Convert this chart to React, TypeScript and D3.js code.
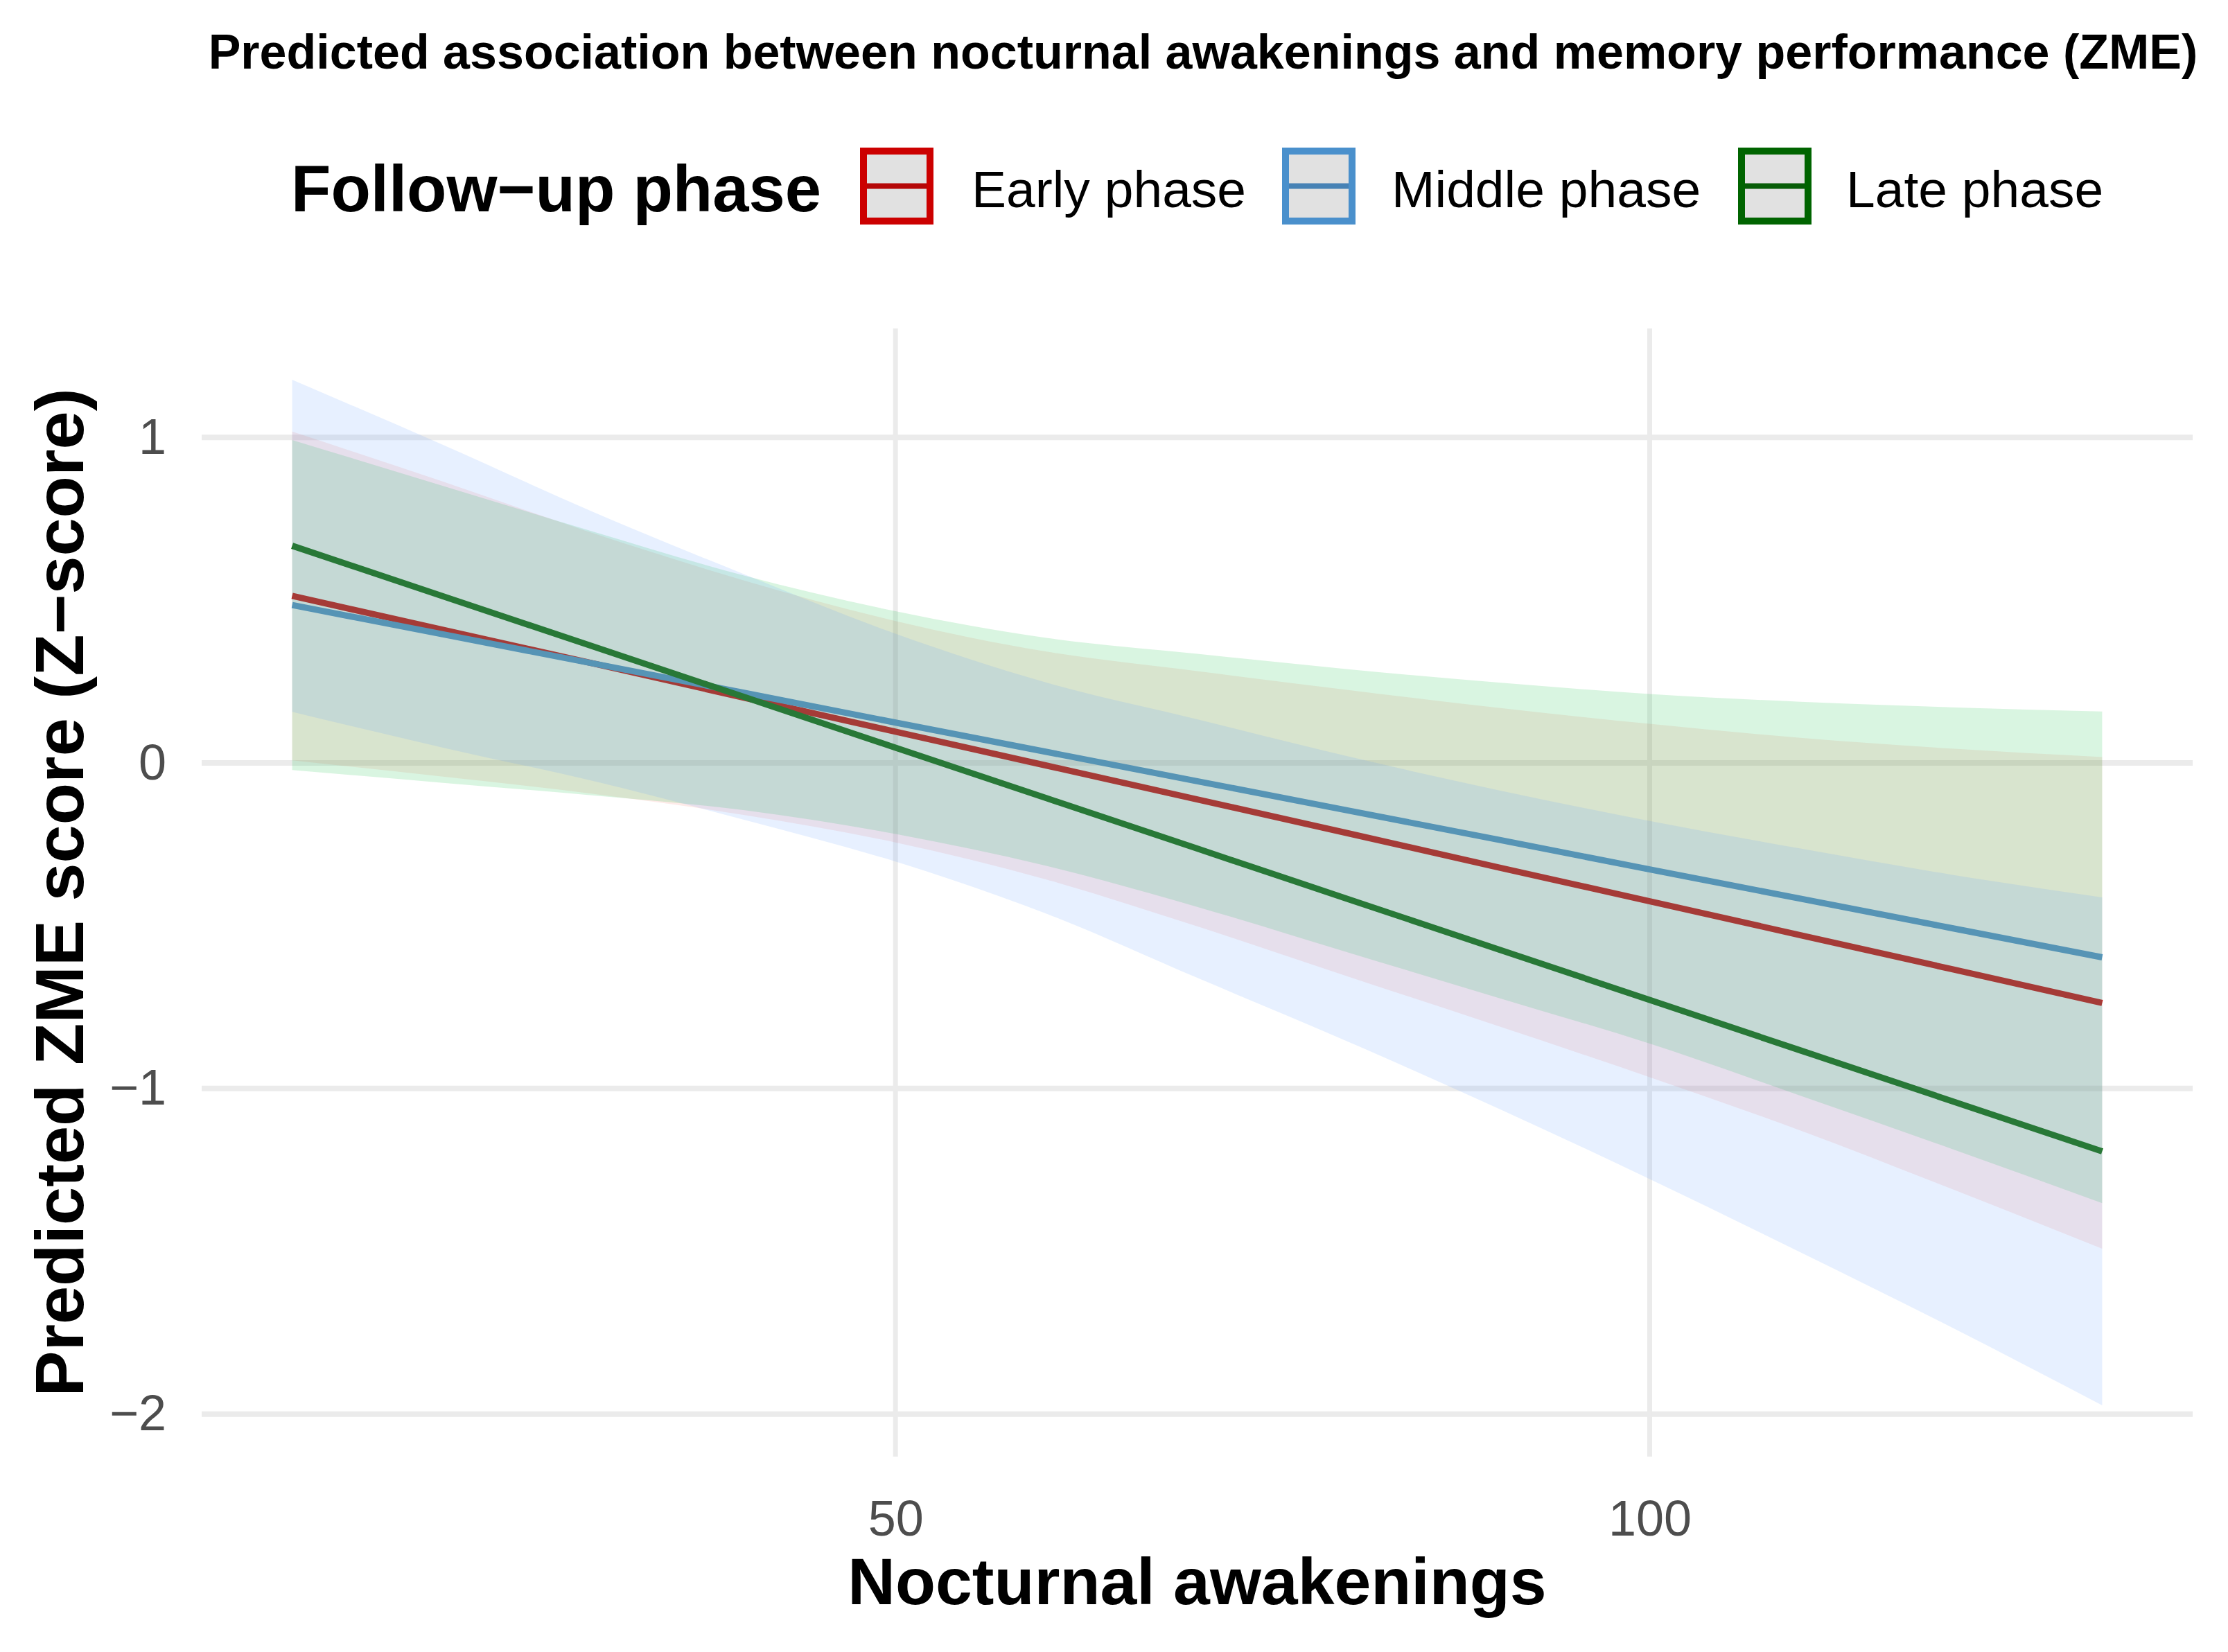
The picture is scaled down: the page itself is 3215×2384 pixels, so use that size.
import React, { useLayoutEffect, useRef } from 'react';
import * as d3 from 'd3';

// nocturnal awakenings at which the predictions were read
const awakenings = [10, 20, 30, 40, 50, 60, 70, 80, 90, 100, 110, 120, 130];

const earlyFit = [0.513, 0.409, 0.305, 0.2, 0.096, -0.008, -0.112, -0.216, -0.321, -0.425, -0.529, -0.633, -0.737];
const earlyLower = [0.008, -0.042, -0.095, -0.16, -0.244, -0.358, -0.502, -0.656, -0.809, -0.965, -1.129, -1.308, -1.492];
const earlyUpper = [1.018, 0.864, 0.705, 0.56, 0.436, 0.342, 0.282, 0.224, 0.169, 0.12, 0.077, 0.044, 0.018];

const middleFit = [0.485, 0.395, 0.305, 0.215, 0.124, 0.034, -0.056, -0.146, -0.236, -0.327, -0.417, -0.507, -0.597];
const middleLower = [-0.022, -0.061, -0.1, -0.145, -0.218, -0.316, -0.442, -0.582, -0.722, -0.862, -1.022, -1.185, -1.352];
const middleUpper = [0.992, 0.851, 0.71, 0.575, 0.466, 0.384, 0.335, 0.288, 0.247, 0.212, 0.188, 0.171, 0.158];

const lateFit = [0.667, 0.512, 0.357, 0.202, 0.047, -0.108, -0.263, -0.418, -0.573, -0.728, -0.883, -1.038, -1.193];
const lateLower = [0.157, 0.047, -0.056, -0.175, -0.303, -0.463, -0.66, -0.856, -1.062, -1.278, -1.503, -1.733, -1.973];
const lateUpper = [1.177, 0.977, 0.77, 0.579, 0.397, 0.247, 0.134, 0.02, -0.084, -0.178, -0.263, -0.343, -0.413];

const phases = ['Early phase', 'Middle phase', 'Late phase'];
const lineColors = ['#cc0000', '#4a90cc', '#006400'];
const ribbonFills = ['#F8766D', '#00BA38', '#619CFF'];

const xTicks = [50, 100];
const yTicks = [-2, -1, 0, 1];

const WIDTH = 3215;
const HEIGHT = 2384;
const FONT = '"Liberation Sans", Arial, Helvetica, sans-serif';
const panel = { left: 291, right: 3164, top: 474, bottom: 2102 };

type Point = { x: number; fit: number; lower: number; upper: number };

const drawChart = (node: SVGSVGElement) => {
  const svg = d3.select(node);
  svg.selectAll('*').remove();
  svg
    .attr('width', WIDTH)
    .attr('height', HEIGHT)
    .attr('font-family', FONT)
    .style('display', 'block')
    .style('background', '#ffffff');

  const fits = [earlyFit, middleFit, lateFit];
  const lowers = [earlyLower, middleLower, lateLower];
  const uppers = [earlyUpper, middleUpper, lateUpper];
  const series = phases.map((name, i) => ({
    name,
    line: lineColors[i],
    fill: ribbonFills[i],
    points: awakenings.map(
      (x, j): Point => ({ x, fit: fits[i][j], lower: lowers[i][j], upper: uppers[i][j] }),
    ),
  }));

  // ggplot style 5% expansion
  const [xMin, xMax] = d3.extent(awakenings) as [number, number];
  const xPad = (xMax - xMin) * 0.05;
  const allY = [...lowers.flat(), ...uppers.flat()];
  const [yMin, yMax] = d3.extent(allY) as [number, number];
  const yPad = (yMax - yMin) * 0.05;

  const xScale = d3
    .scaleLinear()
    .domain([xMin - xPad, xMax + xPad])
    .range([panel.left, panel.right]);
  const yScale = d3
    .scaleLinear()
    .domain([yMin - yPad, yMax + yPad])
    .range([panel.bottom, panel.top]);

  // grid
  const grid = svg.append('g').classed('grid', true);
  grid
    .selectAll('.hgrid')
    .data(yTicks)
    .enter()
    .append('line')
    .attr('x1', panel.left)
    .attr('x2', panel.right)
    .attr('y1', (d) => yScale(d))
    .attr('y2', (d) => yScale(d))
    .attr('stroke', '#ebebeb')
    .attr('stroke-width', 8);
  grid
    .selectAll('.vgrid')
    .data(xTicks)
    .enter()
    .append('line')
    .attr('y1', panel.top)
    .attr('y2', panel.bottom)
    .attr('x1', (d) => xScale(d))
    .attr('x2', (d) => xScale(d))
    .attr('stroke', '#ebebeb')
    .attr('stroke-width', 7);

  // lines sit under the translucent ribbons
  const line = d3
    .line<Point>()
    .x((d) => xScale(d.x))
    .y((d) => yScale(d.fit));
  svg
    .append('g')
    .selectAll('path')
    .data(series)
    .enter()
    .append('path')
    .attr('d', (s) => line(s.points))
    .attr('fill', 'none')
    .attr('stroke', (s) => s.line)
    .attr('stroke-width', 9);

  const area = d3
    .area<Point>()
    .curve(d3.curveMonotoneX)
    .x((d) => xScale(d.x))
    .y0((d) => yScale(d.lower))
    .y1((d) => yScale(d.upper));
  svg
    .append('g')
    .selectAll('path')
    .data(series)
    .enter()
    .append('path')
    .attr('d', (s) => area(s.points))
    .attr('fill', (s) => s.fill)
    .attr('fill-opacity', 0.15);

  // axes
  const yAxis = svg
    .append('g')
    .attr('transform', `translate(${panel.left},0)`)
    .call(
      d3
        .axisLeft(yScale)
        .tickValues(yTicks)
        .tickFormat(d3.format('d'))
        .tickSize(0)
        .tickPadding(51),
    );
  const xAxis = svg
    .append('g')
    .attr('transform', `translate(0,${panel.bottom})`)
    .call(
      d3
        .axisBottom(xScale)
        .tickValues(xTicks)
        .tickFormat(d3.format('d'))
        .tickSize(0)
        .tickPadding(63),
    );
  [yAxis, xAxis].forEach((g) => {
    g.select('.domain').remove();
    g.selectAll('text')
      .style('font-size', '72px')
      .style('font-family', FONT)
      .attr('fill', '#4d4d4d');
  });

  // titles
  svg
    .append('text')
    .attr('x', 1736)
    .attr('y', 99)
    .attr('text-anchor', 'middle')
    .attr('font-weight', 'bold')
    .attr('font-size', 70)
    .text('Predicted association between nocturnal awakenings and memory performance (ZME)');

  svg
    .append('text')
    .attr('x', (panel.left + panel.right) / 2)
    .attr('y', 2315)
    .attr('text-anchor', 'middle')
    .attr('font-weight', 'bold')
    .attr('font-size', 95)
    .text('Nocturnal awakenings');

  svg
    .append('text')
    .attr('transform', `translate(120,${(panel.top + panel.bottom) / 2}) rotate(-90)`)
    .attr('text-anchor', 'middle')
    .attr('font-weight', 'bold')
    .attr('font-size', 99)
    .text('Predicted ZME score (Z\u2212score)');

  // legend
  const legend = svg.append('g').classed('legend', true);
  legend
    .append('text')
    .attr('x', 420)
    .attr('y', 305)
    .attr('font-weight', 'bold')
    .attr('font-size', 94)
    .text('Follow\u2212up phase');

  const keyX = [1241, 1850, 2508];
  const labelX = [1402, 2008, 2664];
  const keyTop = 213;
  const keyW = 106;
  const keyH = 111;
  series.forEach((s, i) => {
    const k = legend.append('g').attr('transform', `translate(${keyX[i]},${keyTop})`);
    k.append('line')
      .attr('x1', 5)
      .attr('x2', keyW - 5)
      .attr('y1', keyH / 2)
      .attr('y2', keyH / 2)
      .attr('stroke', s.line)
      .attr('stroke-width', 8);
    k.append('rect')
      .attr('width', keyW)
      .attr('height', keyH)
      .attr('fill', '#333333')
      .attr('fill-opacity', 0.15);
    k.append('rect')
      .attr('x', 5)
      .attr('y', 5)
      .attr('width', keyW - 10)
      .attr('height', keyH - 10)
      .attr('fill', 'none')
      .attr('stroke', s.line)
      .attr('stroke-width', 10);
    legend
      .append('text')
      .attr('x', labelX[i])
      .attr('y', 299)
      .attr('font-size', 75)
      .text(s.name);
  });
};

export default function App() {
  const svgRef = useRef<SVGSVGElement>(null);

  useLayoutEffect(() => {
    document.body.style.margin = '0';
    if (svgRef.current) drawChart(svgRef.current);
  }, []);

  return (
    <div style={{ position: 'absolute', left: 0, top: 0 }}>
      <svg ref={svgRef} />
    </div>
  );
}
